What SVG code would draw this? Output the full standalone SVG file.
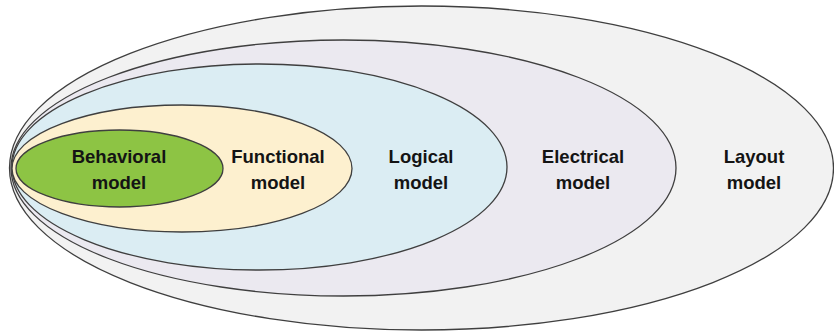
<svg xmlns="http://www.w3.org/2000/svg" width="834" height="332" viewBox="0 0 834 332">
  <style>
    .shell { stroke: #3f3f3f; stroke-width: 1.3; }
    .label { font-family: "Liberation Sans", Arial, sans-serif; font-weight: bold; font-size: 18.5px; fill: #141414; text-anchor: middle; }
  </style>
  <rect width="834" height="332" fill="#ffffff"/>
  <!-- nested model levels, outermost first -->
  <g id="layout-model">
    <ellipse class="shell" cx="421.5" cy="168" rx="412" ry="162" fill="#f2f2f2"/>
    <text class="label" x="754" y="163">Layout</text>
    <text class="label" x="754" y="189">model</text>
  </g>
  <g id="electrical-model">
    <ellipse class="shell" cx="343.5" cy="168" rx="332.5" ry="128" fill="#ebe9f0"/>
    <text class="label" x="583" y="163">Electrical</text>
    <text class="label" x="583" y="189">model</text>
  </g>
  <g id="logical-model">
    <ellipse class="shell" cx="259.5" cy="167" rx="247.5" ry="103" fill="#dbedf3"/>
    <text class="label" x="421" y="163">Logical</text>
    <text class="label" x="421" y="189">model</text>
  </g>
  <g id="functional-model">
    <ellipse class="shell" cx="182" cy="168.5" rx="170" ry="63.5" fill="#fdf0cf"/>
    <text class="label" x="278" y="163">Functional</text>
    <text class="label" x="278" y="189">model</text>
  </g>
  <g id="behavioral-model">
    <ellipse class="shell" cx="119.5" cy="168.5" rx="103.5" ry="38.5" fill="#8dc444"/>
    <text class="label" x="119" y="163">Behavioral</text>
    <text class="label" x="119" y="189">model</text>
  </g>
  <g id="connectors"/>
</svg>
